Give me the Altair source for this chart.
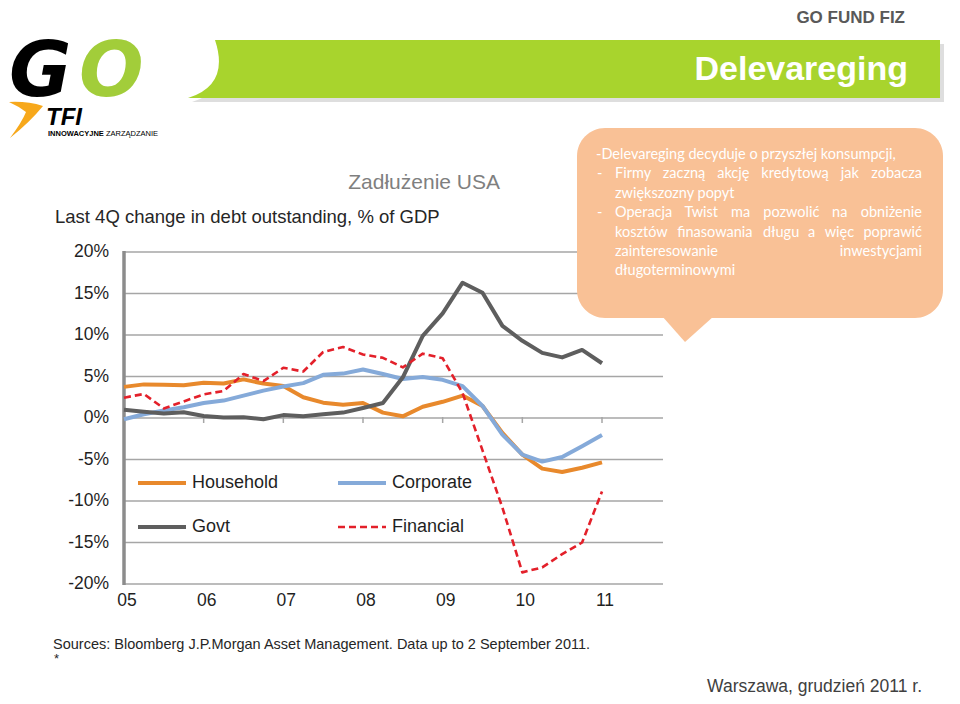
import altair as alt
import pandas as pd

# ---------------- data ----------------
years = [2005, 2006, 2007, 2008, 2009, 2010, 2011]
year_labels = ["05", "06", "07", "08", "09", "10", "11"]
quarters = [f"{2005 + q // 4}Q{q % 4 + 1}" for q in range(25)]

household = [3.75, 4.05, 4.0, 3.95, 4.25, 4.15, 4.65, 4.15, 3.85, 2.5, 1.85, 1.6, 1.8,
             0.65, 0.2, 1.35, 1.95, 2.7, 1.45, -1.8, -4.4, -6.1, -6.5, -6.0, -5.35]
corporate = [-0.15, 0.45, 0.9, 1.3, 1.8, 2.1, 2.7, 3.3, 3.8, 4.2, 5.2, 5.35, 5.85,
             5.3, 4.7, 4.95, 4.6, 3.85, 1.45, -2.0, -4.4, -5.25, -4.7, -3.4, -2.05]
govt = [1.0, 0.75, 0.55, 0.7, 0.25, 0.05, 0.1, -0.15, 0.35, 0.2, 0.45, 0.65, 1.2,
        1.8, 4.9, 9.9, 12.6, 16.3, 15.1, 11.1, 9.3, 7.85, 7.3, 8.2, 6.6]
financial = [2.45, 2.9, 1.15, 2.0, 2.85, 3.25, 5.3, 4.45, 6.05, 5.6, 7.95, 8.55, 7.65,
             7.25, 6.1, 7.75, 7.2, 3.0, -3.9, -10.8, -18.6, -18.0, -16.4, -15.0, -8.85]

y_ticks = [-20, -15, -10, -5, 0, 5, 10, 15, 20]
y_tick_labels = ["-20%", "-15%", "-10%", "-5%", "0%", "5%", "10%", "15%", "20%"]

# callout text: (bullet?, words, justified?)
callout_lines = [
    (False, ["-Delevareging decyduje o przyszłej konsumpcji,"], False),
    (True, ["Firmy", "zaczną", "akcję", "kredytową", "jak", "zobacza"], True),
    (False, ["zwiększozny popyt"], False),
    (True, ["Operacja", "Twist", "ma", "pozwolić", "na", "obniżenie"], True),
    (False, ["kosztów", "finasowania", "długu", "a", "więc", "poprawić"], True),
    (False, ["zainteresowanie", "inwestycjami"], True),
    (False, ["długoterminowymi"], False),
]

# ---------------- helpers ----------------
OFF = 8  # page margin


def P(v):
    return v - OFF


one = pd.DataFrame({"k": [0]})
FONT = "Liberation Sans"


def label(s, x, y, size, color="#1F1F1F", align="left", weight="normal",
          style="normal", font=FONT, baseline="middle"):
    return alt.Chart(one).mark_text(
        text=s, align=align, baseline=baseline, fontSize=size, font=font,
        fontWeight=weight, fontStyle=style, color=color
    ).encode(x=alt.value(P(x)), y=alt.value(P(y)))


def shape(path, color, opacity=1.0):
    return alt.Chart(one).mark_point(
        shape=path, filled=True, size=4, color=color, opacity=opacity, strokeWidth=0
    ).encode(x=alt.value(-OFF), y=alt.value(-OFF))


def seg(x1, y1, x2, y2, color, width, dash=None):
    kw = dict(color=color, strokeWidth=width)
    if dash:
        kw["strokeDash"] = dash
    return alt.Chart(one).mark_rule(**kw).encode(
        x=alt.value(P(x1)), x2=alt.value(P(x2)), y=alt.value(P(y1)), y2=alt.value(P(y2)))


# rough advance widths (em) for Lato, used only to justify callout lines
LW = {"a": .51, "b": .56, "c": .46, "d": .56, "e": .51, "f": .32, "g": .5, "h": .56,
      "i": .24, "j": .24, "k": .5, "l": .24, "m": .84, "n": .56, "o": .56, "p": .56,
      "r": .35, "s": .42, "t": .35, "u": .56, "v": .47, "w": .76, "y": .5, "z": .44,
      "ł": .26, "ą": .51, "ę": .51, "ż": .44, "ć": .46, "ó": .56, "ń": .56,
      "F": .53, "O": .72, "T": .55, "D": .7, ",": .2, "-": .33}


def wwidth(word, size):
    return sum(LW.get(ch, .5) for ch in word) * size * 1.02


xs = alt.Scale(domain=[2005, 2011], range=[P(124), P(602)], nice=False, zero=False)
ys = alt.Scale(domain=[-20, 20], range=[P(584), P(252)], nice=False, zero=False)

layers = []

# ---------------- header ----------------
layers.append(label("GO FUND FIZ", 905, 18, 17, color="#595959", align="right", weight="bold"))
banner = "M 215 40 L 940 40 L 940 98 L 188 98 Q 230 85 215 40 Z"
banner_shadow = "M 219 44 L 944 44 L 944 102 L 192 102 Q 234 89 219 44 Z"
layers.append(shape(banner_shadow, "#c8c8c8", 0.6))
layers.append(shape(banner, "#A8D42D"))
layers.append(label("Delevareging", 908, 70, 34, color="white", align="right", weight="bold"))

# logo
layers.append(label("G", 9, 96, 76, color="#000000", weight="bold", style="italic",
                    font="DejaVu Sans", baseline="alphabetic"))
layers.append(label("O", 79, 96, 76, color="#A2CD3A", weight="bold", style="italic",
                    font="DejaVu Sans", baseline="alphabetic"))
swoosh = "M 9 102 Q 27 101 43 106 Q 30 122 10 138 Q 22 122 26 112 Q 18 106 9 102 Z"
layers.append(shape(swoosh, "#F7A81B"))
layers.append(label("TFI", 46, 125, 24, color="#000000", weight="bold", style="italic",
                    baseline="alphabetic"))
layers.append(label("INNOWACYJNE", 48, 136, 7.5, color="#000000", weight="bold",
                    baseline="alphabetic"))
layers.append(label("ZARZĄDZANIE", 106, 136, 7.5, color="#000000", baseline="alphabetic"))

layers.append(label("Zadłużenie USA", 500, 183, 21, color="#7F7F7F", align="right"))
layers.append(label("Last 4Q change in debt outstanding, % of GDP", 55, 217, 18.5,
                    color="#262626"))

# ---------------- chart frame ----------------
grid_df = pd.DataFrame({"g": y_ticks, "lab": y_tick_labels})
layers.append(alt.Chart(grid_df).mark_rule(color="#A6A6A6", strokeWidth=1.5).encode(
    y=alt.Y("g:Q", scale=ys, axis=None), x=alt.value(P(124)), x2=alt.value(P(663))))
layers.append(alt.Chart(grid_df).mark_text(align="right", baseline="middle", fontSize=17.5,
                                           font=FONT, color="#1F1F1F").encode(
    y=alt.Y("g:Q", scale=ys, axis=None), x=alt.value(P(109)), text="lab:N"))

yr_df = pd.DataFrame({"yr": years, "lab": year_labels})
layers.append(alt.Chart(yr_df).mark_text(align="center", baseline="middle", fontSize=17.5,
                                         font=FONT, color="#1F1F1F", dx=3).encode(
    x=alt.X("yr:Q", scale=xs, axis=None), y=alt.value(P(601)), text="lab:N"))
layers.append(alt.Chart(yr_df[yr_df.yr > 2005]).mark_rule(color="#A6A6A6", strokeWidth=1.5).encode(
    x=alt.X("yr:Q", scale=xs, axis=None), y=alt.value(P(417)), y2=alt.value(P(423))))
layers.append(seg(124, 251, 124, 585, "#8C8C8C", 3.5))

# ---------------- series ----------------
df = pd.DataFrame({
    "t": [2005 + i / 4 for i in range(len(quarters))],
    "q": quarters,
    "Household": household,
    "Corporate": corporate,
    "Govt": govt,
    "Financial": financial,
})
styles = [
    ("Household", "#E8892C", 4, None),
    ("Corporate", "#85AAD9", 4, None),
    ("Govt", "#5E5E5E", 4, None),
    ("Financial", "#E3202A", 2.6, [7, 4]),
]
for name, col, w, dash in styles:
    kw = dict(color=col, strokeWidth=w, strokeJoin="round")
    if dash:
        kw["strokeDash"] = dash
    layers.append(alt.Chart(df).mark_line(**kw).encode(
        x=alt.X("t:Q", scale=xs, axis=None),
        y=alt.Y(f"{name}:Q", scale=ys, axis=None),
        order="t:Q"))

# legend
leg_pos = {"Household": (138, 483), "Corporate": (338, 483),
           "Govt": (138, 527), "Financial": (338, 527)}
for name, col, w, dash in styles:
    lx, ly = leg_pos[name]
    layers.append(seg(lx, ly, lx + 48, ly, col, w, dash))
    layers.append(label(name, lx + 54, ly, 18, color="#1F1F1F"))

# ---------------- callout ----------------
BUB = "#F9C196"
layers.append(alt.Chart(one).mark_rect(color=BUB, cornerRadius=28).encode(
    x=alt.value(P(577)), x2=alt.value(P(943)), y=alt.value(P(128)), y2=alt.value(P(318))))
layers.append(shape("M 662 316 L 714 316 L 685 342 Z", BUB))

CF = "Lato"
CS = 14.5
LEFT, RIGHT = 615, 922
for k, (bullet, words, just) in enumerate(callout_lines):
    y = 155 + 19.4 * k
    if bullet:
        layers.append(label("-", 597, y, CS, color="white", font=CF))
    if k == 0:
        layers.append(label(words[0], 596, y, CS, color="white", font=CF))
        continue
    if not just or len(words) == 1:
        layers.append(label(" ".join(words), LEFT, y, CS, color="white", font=CF))
        continue
    widths = [wwidth(w, CS) for w in words]
    gap = (RIGHT - LEFT - sum(widths)) / (len(words) - 1)
    xpos = LEFT
    for j, w in enumerate(words):
        if j == len(words) - 1:
            layers.append(label(w, RIGHT, y, CS, color="white", font=CF, align="right"))
        else:
            layers.append(label(w, xpos, y, CS, color="white", font=CF))
        xpos += widths[j] + gap

# ---------------- footer ----------------
layers.append(label("Sources: Bloomberg J.P.Morgan Asset Management. Data up to 2 September 2011.",
                    53, 645, 14.5, color="#262626"))
layers.append(label("*", 54, 659, 13, color="#262626"))
layers.append(label("Warszawa, grudzień 2011 r.", 922, 687, 17.5, color="#404040", align="right"))

chart = alt.layer(*layers).properties(
    width=944, height=688, autosize=alt.AutoSizeParams(type="none"), padding=0,
    background="white"
).configure_view(strokeWidth=0)

chart.save("out.html", embed_options={"renderer": "svg", "actions": False})
